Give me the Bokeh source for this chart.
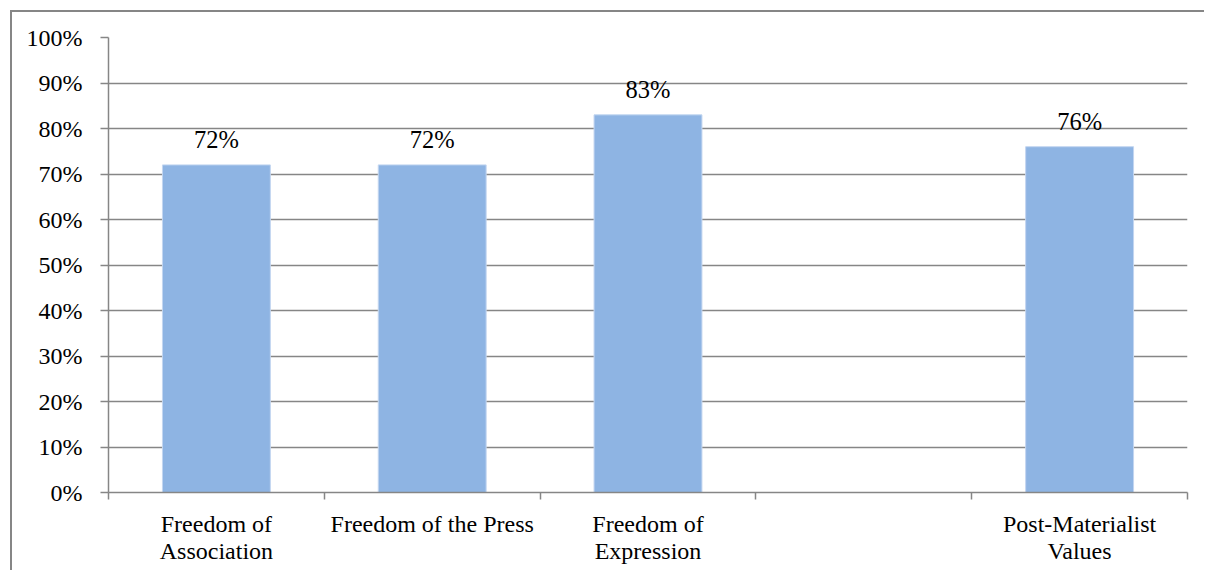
from bokeh.plotting import figure
from bokeh.models import ColumnDataSource, FixedTicker, PrintfTickFormatter, Range1d
from bokeh.core.properties import value
from bokeh.embed import file_html
from bokeh.resources import INLINE

# Survey indicators (share of respondents, %); the fourth slot is left empty
categories = ["Freedom of\nAssociation", "Freedom of the Press", "Freedom of\nExpression", "", "Post-Materialist\nValues"]
shares = [72, 72, 83, None, 76]
share_labels = ["72%", "72%", "83%", "", "76%"]
y_ticks = [0, 10, 20, 30, 40, 50, 60, 70, 80, 90, 100]

FONT = "Liberation Serif"
GREY = "#868686"

centers = [i + 0.5 for i in range(len(categories))]
idx = [i for i, v in enumerate(shares) if v is not None]
src = ColumnDataSource(dict(
    x=[centers[i] for i in idx],
    top=[shares[i] for i in idx],
    label=[share_labels[i] for i in idx],
))

p = figure(width=1194, height=560, output_backend="svg", toolbar_location=None,
           x_range=Range1d(0, len(categories)), y_range=Range1d(0, 100),
           min_border_left=96, min_border_right=19, min_border_top=25, min_border_bottom=80)
p.outline_line_color = None
p.background_fill_color = "white"
p.border_fill_color = "white"
# chart-area border along the left and top edges
p.styles = {"margin-left": "10px", "margin-top": "10px",
            "border-left": "2px solid #868686",
            "border-top": "2px solid #868686"}

p.vbar(x="x", top="top", width=0.5, bottom=0, source=src,
       fill_color="#8EB4E3", line_color="#C3D6F0", line_width=1)

p.text(x="x", y="top", text="label", source=src, text_align="center",
       text_baseline="alphabetic", y_offset=-25,
       text_font=value(FONT), text_font_size="24.5px", text_color="black")

# y axis
p.yaxis.ticker = FixedTicker(ticks=y_ticks)
p.yaxis.formatter = PrintfTickFormatter(format="%d%%")
p.yaxis.axis_line_color = GREY
p.yaxis.axis_line_width = 1.5
p.yaxis.major_tick_line_color = GREY
p.yaxis.major_tick_line_width = 1.5
p.yaxis.major_tick_out = 8
p.yaxis.major_tick_in = 0
p.yaxis.minor_tick_line_color = None
p.yaxis.major_label_text_font = FONT
p.yaxis.major_label_text_font_size = "24px"
p.yaxis.major_label_text_color = "black"
p.yaxis.major_label_standoff = 18

# x axis: labels centred on each slot, tick marks on slot boundaries
p.xaxis.ticker = FixedTicker(ticks=centers, minor_ticks=list(range(len(categories) + 1)))
p.xaxis.major_label_overrides = {c: lab for c, lab in zip(centers, categories)}
p.xaxis.axis_line_color = GREY
p.xaxis.axis_line_width = 1.5
p.xaxis.major_tick_line_color = None
p.xaxis.minor_tick_line_color = GREY
p.xaxis.minor_tick_line_width = 1.5
p.xaxis.minor_tick_out = 7
p.xaxis.minor_tick_in = 0
p.xaxis.major_label_text_font = FONT
p.xaxis.major_label_text_font_size = "24px"
p.xaxis.major_label_text_color = "black"
p.xaxis.major_label_text_line_height = 1.05
p.xaxis.major_label_standoff = 11

p.xgrid.grid_line_color = None
p.ygrid.ticker = FixedTicker(ticks=y_ticks)
p.ygrid.grid_line_color = GREY
p.ygrid.grid_line_width = 1.5

open("out.html", "w").write(file_html(p, INLINE))
